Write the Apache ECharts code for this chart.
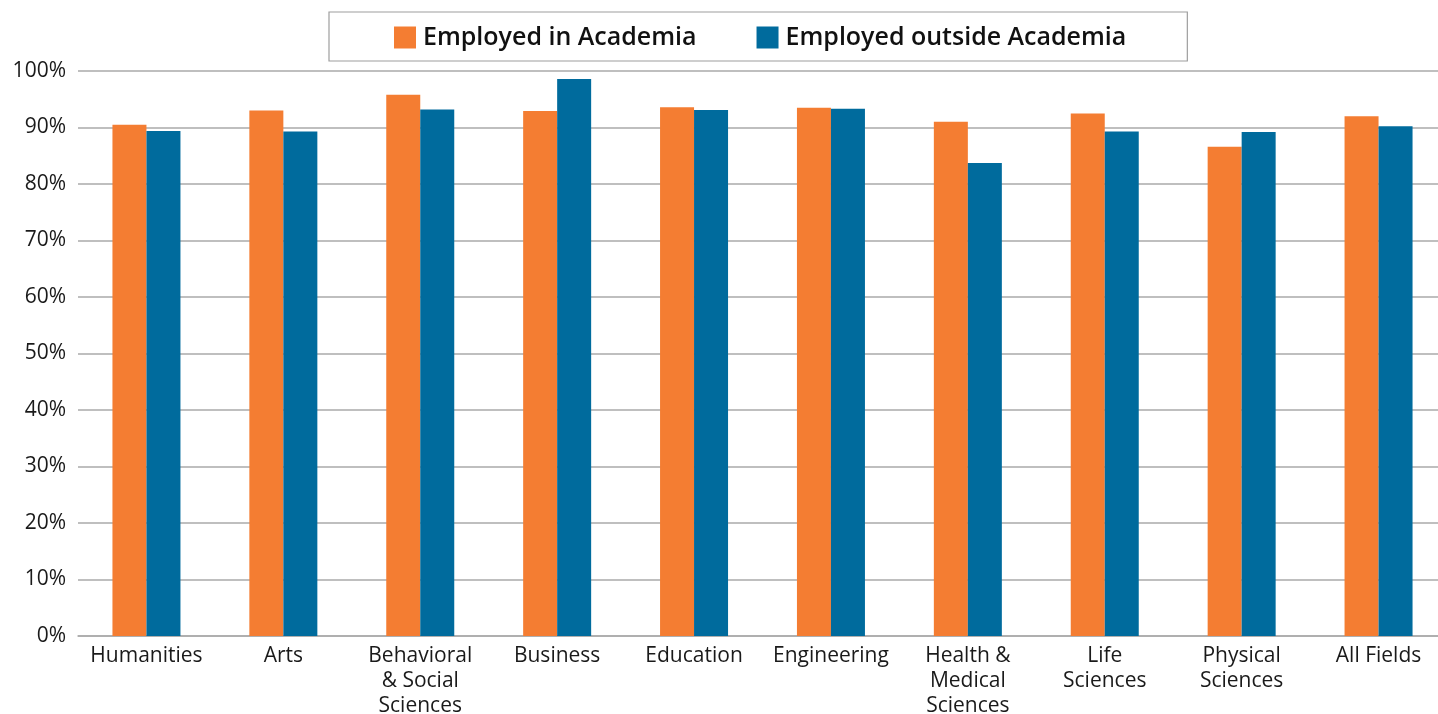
<!DOCTYPE html>
<html>
<head>
<meta charset="utf-8">
<script src="https://cdn.jsdelivr.net/npm/echarts@6/dist/echarts.min.js"></script>
<style>
html,body{margin:0;padding:0;background:#fff;}
#chart{width:1438px;height:714px;}
</style>
</head>
<body>
<div id="chart"></div>
<script>
const categories = ["Humanities", "Arts", "Behavioral\n& Social\nSciences", "Business", "Education", "Engineering", "Health &\nMedical\nSciences", "Life\nSciences", "Physical\nSciences", "All Fields"];
const inAcademia = [90.5, 93.0, 95.8, 92.9, 93.6, 93.5, 91.0, 92.5, 86.6, 92.0];
const outsideAcademia = [89.4, 89.3, 93.2, 98.6, 93.1, 93.3, 83.7, 89.3, 89.2, 90.2];
const seriesNames = ["Employed in Academia", "Employed outside Academia"];

const chart = echarts.init(document.getElementById('chart'), null, {renderer: 'canvas'});
const font = '"Open Sans", Roboto, sans-serif';
chart.setOption({
  animation: false,
  backgroundColor: '#fff',
  color: ['#F47D32', '#006B9D'],
  legend: {
    data: seriesNames,
    left: 329,
    top: 12,
    padding: [13, 61, 11, 65],
    itemGap: 60,
    itemWidth: 22,
    itemHeight: 22,
    icon: 'rect',
    borderColor: '#9e9e9e',
    borderWidth: 1.2,
    textStyle: {fontFamily: font, fontSize: 25, fontWeight: 600, color: '#111', padding: [0,0,0,2]}
  },
  grid: {left: 78, right: -9, top: 71, bottom: 78, containLabel: false, outerBoundsMode: 'none'},
  xAxis: {
    type: 'category',
    data: categories,
    axisTick: {show: false},
    axisLine: {lineStyle: {color: '#aaa', width: 1.5}},
    axisLabel: {fontFamily: font, fontSize: 21, color: '#1a1a1a', lineHeight: 25, margin: 8, interval: 0}
  },
  yAxis: {
    type: 'value',
    min: 0, max: 100, interval: 10,
    axisLabel: {formatter: '{value}%', fontFamily: font, fontSize: 21, color: '#1a1a1a', margin: 12},
    splitLine: {lineStyle: {color: '#aaa', width: 1.5}},
    axisLine: {show: false},
    axisTick: {show: false}
  },
  series: [
    {name: seriesNames[0], type: 'bar', data: inAcademia, barWidth: 34, barGap: '0%'},
    {name: seriesNames[1], type: 'bar', data: outsideAcademia, barWidth: 34, barGap: '0%'}
  ]
});
</script>
</body>
</html>
